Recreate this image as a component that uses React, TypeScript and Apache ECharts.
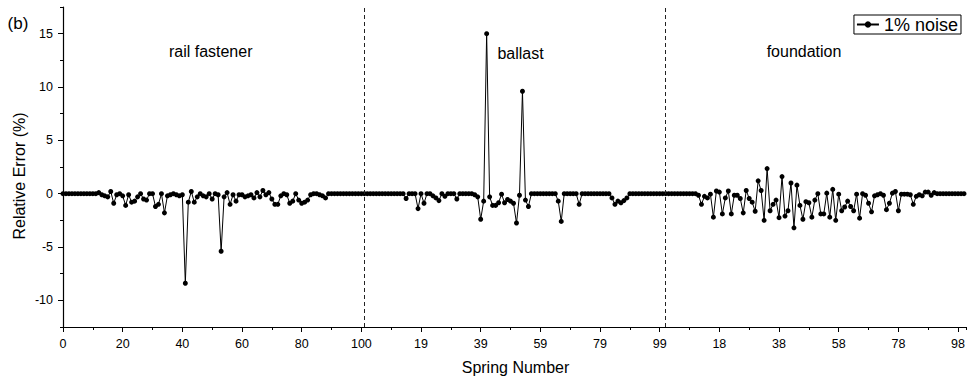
import React, { useEffect, useRef } from "react";
import * as echarts from "echarts";

// Relative error (%) per spring (1% noise)
const railFastener = [
  0, 0, 0, 0, 0, 0, 0, 0, 0, 0,
  0, 0, 0.1, -0.1, -0.2, -0.3, 0.2, -0.9, -0.1, 0,
  -0.2, -1.1, -0.1, -0.8, -0.7, -0.3, 0, -0.5, -0.6, 0,
  0, -1.2, -1.0, 0, -1.8, -0.2, -0.1, 0, -0.1, -0.2,
  -0.1, -8.4, -0.8, 0.2, -0.8, -0.3, 0, -0.2, -0.3, 0,
  -0.5, 0, -0.1, -5.4, -0.3, 0.1, -1.0, -0.1, -0.7, -0.1,
  -0.1, -0.3, -0.2, -0.1, -0.4, 0.1, -0.3, 0.3, -0.1, 0.1,
  -0.5, -1.0, -1.0, -0.2, 0, -0.1, -0.9, -0.7, 0, -0.6,
  -0.9, -0.8, -0.6, -0.1, 0, 0, -0.1, -0.2, -0.4, 0,
  0, 0, 0, 0, 0, 0, 0, 0, 0, 0,
  0,
];

const ballast = [
  0, 0, 0, 0, 0, 0, 0, 0, 0, 0,
  0, 0, 0, 0, -0.45, 0, 0, 0, -1.4, 0,
  -0.9, 0, 0, -0.2, -0.4, -0.65, 0, -0.25, 0, 0,
  0, -0.5, 0, 0, 0, 0, 0, -0.1, -0.3, -2.4,
  -0.7, 15.0, -0.3, -1.1, -1.1, -0.85, -0.05, -0.85, -0.55, -0.7,
  -0.9, -2.75, -0.15, 9.6, -0.6, -1.2, 0, 0, 0, 0,
  0, 0, 0, 0, 0, -0.7, -2.6, 0, 0, 0,
  0, 0, -1.0, 0, 0, 0, 0, 0, 0, 0,
  0, 0, 0, -0.4, -1.0, -0.7, -0.85, -0.65, -0.4, 0,
  0, 0, 0, 0, 0, 0, 0, 0, 0, 0,
  0,
];

const foundation = [
  0, 0, 0, 0, 0, 0, 0, 0, 0, 0,
  0, -0.15, -1.0, -0.25, -0.4, -0.05, -2.2, 0.25, 0.15, -1.9,
  -0.4, 0.25, -1.9, -0.15, -0.15, -0.45, -1.8, 0.3, -0.45, -0.8,
  -1.65, 1.2, 0.3, -2.5, 2.35, -1.6, -1.0, -0.6, -2.25, 1.6,
  -2.1, -1.6, 1.0, -3.2, 0.8, -1.1, -2.4, -0.75, -0.85, -2.2,
  -0.6, 0, -1.9, -1.9, 0.05, -2.2, 0.4, -2.5, -0.05, -1.6,
  -1.25, -0.7, -1.2, -1.6, -0.05, -2.3, 0, -0.15, -0.9, -1.7,
  -0.2, -0.1, 0, -0.15, -1.5, -0.9, 0.05, 0.2, -1.6, -0.05,
  -0.05, -0.05, -0.1, -1.0, -0.25, -0.1, -0.2, 0.15, 0.15, -0.15,
  0.1, 0, 0, 0, 0, 0, 0, 0, 0, 0,
  0,
];

const segmentStarts = [0, 101, 202];
const segmentNames = ["rail fastener", "ballast", "foundation"];
const dividers = [101, 202];
const seriesName = "1% noise";
const panelLabel = "(b)";
const xName = "Spring Number";
const yName = "Relative Error (%)";

const FONT = "Arial, 'Liberation Sans', Helvetica, sans-serif";

function tickLabel(v: number): string {
  let start = 0;
  for (let i = 0; i < segmentStarts.length; i++) {
    if (v >= segmentStarts[i] && (i === 0 || v > 100 + (i - 1) * 101)) start = segmentStarts[i];
  }
  return String(Math.round(v - start));
}

export default function App() {
  const ref = useRef<HTMLDivElement>(null);
  useEffect(() => {
    document.body.style.margin = "0";
    const chart = echarts.init(ref.current!, null, { renderer: "svg" });
    const values = [...railFastener, ...ballast, ...foundation];
    const data = values.map((v, i) => [i, v]);
    const X_MAX = 302.6;
    const Y_MIN = -12.5;
    const Y_MAX = 17.5;
    const black = "#000";

    chart.setOption({
      animation: false,
      backgroundColor: "#fff",
      grid: { left: 63, right: 0, top: 7, bottom: 56, containLabel: false },
      xAxis: [
        {
          type: "value",
          min: 0,
          max: X_MAX,
          interval: 20,
          position: "bottom",
          offset: 0,
          axisLine: { show: true, onZero: false, lineStyle: { color: black, width: 1.2 } },
          axisTick: { show: true, inside: false, length: 5, lineStyle: { color: black, width: 1 } },
          axisLabel: {
            show: true,
            margin: 10,
            color: black,
            fontSize: 12.5,
            fontFamily: FONT,
            showMaxLabel: false,
            formatter: (v: number) => tickLabel(v),
          },
          splitLine: { show: false },
        },
        {
          type: "value",
          min: 0,
          max: X_MAX,
          interval: 10,
          position: "bottom",
          offset: 0,
          axisLine: { show: false, onZero: false },
          axisTick: { show: true, inside: false, length: 3, lineStyle: { color: black, width: 1 } },
          axisLabel: { show: false },
          splitLine: { show: false },
        },
      ],
      yAxis: [
        {
          type: "value",
          min: Y_MIN,
          max: Y_MAX,
          position: "left",
          offset: 0,
          axisLine: { show: true, onZero: false, lineStyle: { color: black, width: 1.2 } },
          axisTick: { show: true, inside: false, length: 5, lineStyle: { color: black, width: 1 } },
          axisLabel: {
            show: true,
            margin: 10,
            color: black,
            fontSize: 12.5,
            fontFamily: FONT,
            showMinLabel: false,
            showMaxLabel: false,
          },
          splitLine: { show: false },
        },
        {
          type: "value",
          min: Y_MIN,
          max: Y_MAX,
          interval: 2.5,
          position: "left",
          offset: 0,
          axisLine: { show: false, onZero: false },
          axisTick: { show: true, inside: false, length: 3, lineStyle: { color: black, width: 1 } },
          axisLabel: { show: false },
          splitLine: { show: false },
        },
      ],
      legend: {
        show: true,
        data: [seriesName],
        right: 7,
        top: 15,
        orient: "horizontal",
        padding: [0, 3, 0, 2],
        itemWidth: 22,
        itemHeight: 8,
        itemGap: 0,
        borderColor: black,
        borderWidth: 1,
        borderRadius: 0,
        textStyle: { fontSize: 18, color: black, fontFamily: FONT, lineHeight: 19 },
      },
      graphic: [
        {
          type: "text",
          x: 18,
          y: 23,
          style: { text: panelLabel, fontSize: 17, fontFamily: FONT, fill: black, align: "center", verticalAlign: "middle" },
        },
        {
          type: "text",
          x: 210.7,
          y: 51.7,
          style: { text: segmentNames[0], fontSize: 16, fontFamily: FONT, fill: black, align: "center", verticalAlign: "middle" },
        },
        {
          type: "text",
          x: 520.5,
          y: 53,
          style: { text: segmentNames[1], fontSize: 16, fontFamily: FONT, fill: black, align: "center", verticalAlign: "middle" },
        },
        {
          type: "text",
          x: 804,
          y: 51.7,
          style: { text: segmentNames[2], fontSize: 16, fontFamily: FONT, fill: black, align: "center", verticalAlign: "middle" },
        },
        {
          type: "text",
          x: 515.5,
          y: 367.5,
          style: { text: xName, fontSize: 16, fontFamily: FONT, fill: black, align: "center", verticalAlign: "middle" },
        },
        {
          type: "text",
          x: 19,
          y: 176,
          rotation: Math.PI / 2,
          style: { text: yName, fontSize: 16, fontFamily: FONT, fill: black, align: "center", verticalAlign: "middle" },
        },
      ],
      series: [
        {
          type: "line",
          name: seriesName,
          xAxisIndex: 0,
          yAxisIndex: 0,
          data,
          symbol: "circle",
          symbolSize: 5,
          showSymbol: true,
          showAllSymbol: true,
          lineStyle: { color: black, width: 1 },
          itemStyle: { color: black },
          markLine: {
            silent: true,
            symbol: "none",
            label: { show: false },
            lineStyle: { color: "#222", type: [4, 3], width: 1 },
            data: dividers.map((x) => ({ xAxis: x })),
          },
        },
      ],
    });
    return () => chart.dispose();
  }, []);
  return <div ref={ref} style={{ width: 968, height: 383 }} />;
}
